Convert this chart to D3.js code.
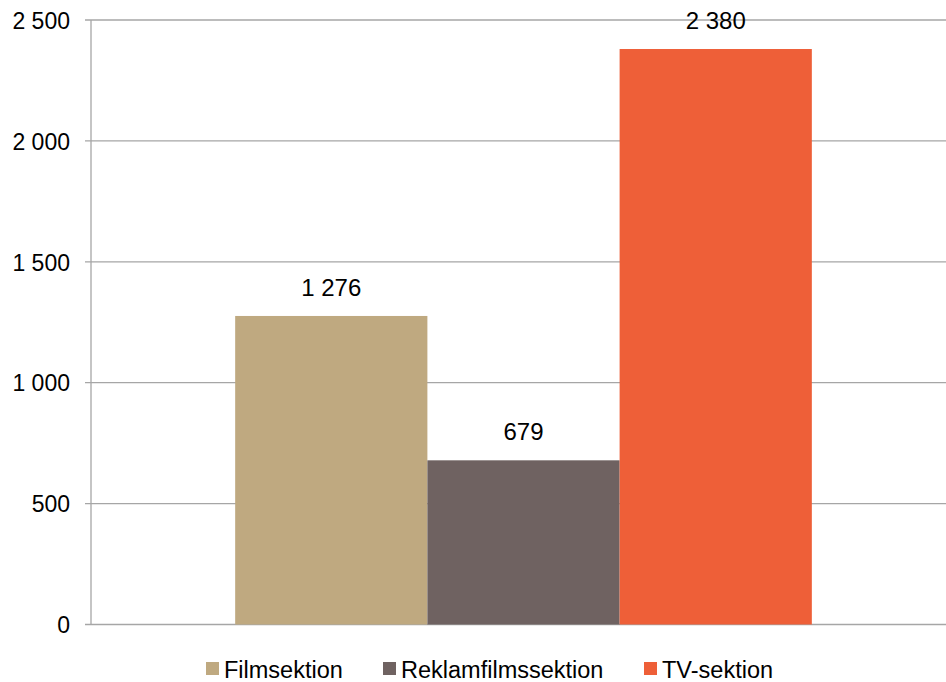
<!DOCTYPE html>
<html>
<head>
<meta charset="utf-8">
<script src="https://cdn.jsdelivr.net/npm/d3@7"></script>
<style>
  body { margin: 0; background: #fff; }
  svg { display: block; }
</style>
</head>
<body>
<script>
// data
const category = ["Totalt"];
const seriesNames = ["Filmsektion", "Reklamfilmssektion", "TV-sektion"];
const seriesValues = [1276, 679, 2380];
const seriesColors = ["#bfa980", "#6f6261", "#ee5f38"];
const yTicks = [0, 500, 1000, 1500, 2000, 2500];

const width = 946, height = 682;
const fontFamily = "Liberation Sans, Arial, sans-serif";

function fmt(v) {
  // swedish style thousands separator (space)
  return d3.format(",")(v).replace(/,/g, " ");
}

const svg = d3.select("body").append("svg")
  .attr("width", width)
  .attr("height", height);

const plotLeft = 91, plotRight = 956, plotTop = 20, plotBottom = 624.5;

const y = d3.scaleLinear().domain([0, 2500]).range([plotBottom, plotTop]);

const x0 = d3.scaleBand().domain(category).range([plotLeft, plotRight])
  .paddingInner(0).paddingOuter(0.25);
const x1 = d3.scaleBand().domain(seriesNames).range([0, x0.bandwidth()]);

/* grid lines */
svg.append("g")
  .selectAll("line")
  .data(yTicks)
  .join("line")
  .attr("x1", plotLeft - 6)
  .attr("x2", width)
  .attr("y1", d => y(d))
  .attr("y2", d => y(d))
  .style("stroke", "#a6a6a6")
  .style("stroke-width", 1.3);

/* y axis line */
svg.append("line")
  .attr("x1", plotLeft).attr("x2", plotLeft)
  .attr("y1", plotTop).attr("y2", plotBottom)
  .style("stroke", "#a6a6a6")
  .style("stroke-width", 1.3);

/* tick labels */
svg.append("g")
  .selectAll("text")
  .data(yTicks)
  .join("text")
  .attr("x", 70)
  .attr("y", d => y(d))
  .attr("dy", "0.38em")
  .text(d => fmt(d))
  .style("font-family", fontFamily)
  .style("font-size", "23px")
  .style("text-anchor", "end")
  .style("fill", "#000");

/* bars */
const group = svg.append("g")
  .attr("transform", `translate(${x0(category[0])},0)`);

group.selectAll("rect")
  .data(seriesValues)
  .join("rect")
  .attr("x", (d, i) => x1(seriesNames[i]))
  .attr("width", x1.bandwidth())
  .attr("y", d => y(d))
  .attr("height", d => plotBottom - y(d))
  .style("fill", (d, i) => seriesColors[i]);

/* value labels */
group.selectAll("text")
  .data(seriesValues)
  .join("text")
  .attr("x", (d, i) => x1(seriesNames[i]) + x1.bandwidth() / 2)
  .attr("y", d => y(d) - 20)
  .text(d => fmt(d))
  .style("font-family", fontFamily)
  .style("font-size", "24px")
  .style("text-anchor", "middle")
  .style("fill", "#000");

/* legend */
const legendX = [206, 383, 644];
const legend = svg.append("g");
seriesNames.forEach((name, i) => {
  legend.append("rect")
    .attr("x", legendX[i])
    .attr("y", 662)
    .attr("width", 13)
    .attr("height", 13)
    .style("fill", seriesColors[i]);
  legend.append("text")
    .attr("x", legendX[i] + 18)
    .attr("y", 678)
    .text(name)
    .style("font-family", fontFamily)
    .style("font-size", "23.5px")
    .style("fill", "#000");
});
</script>
</body>
</html>
